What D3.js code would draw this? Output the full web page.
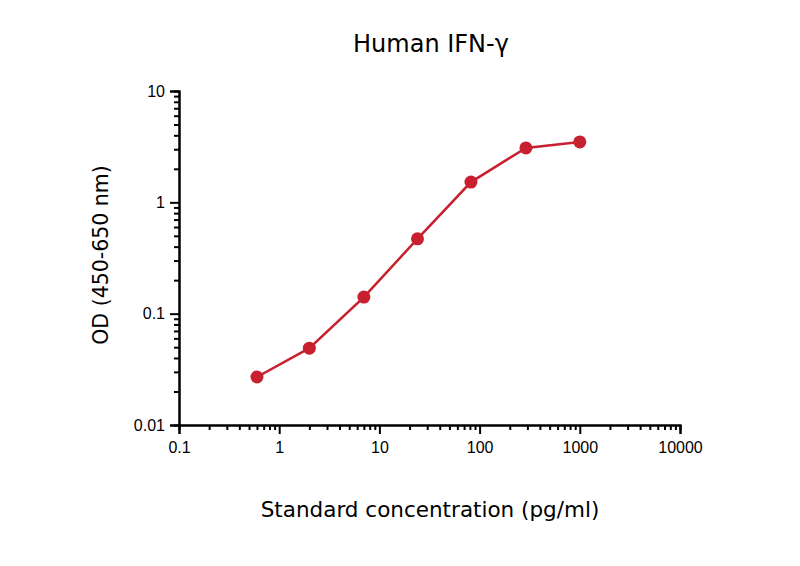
<!DOCTYPE html>
<html><head><meta charset="utf-8">
<script src="https://cdn.jsdelivr.net/npm/d3@7"></script>
<style>body{margin:0;background:#fff}text{font-family:"DejaVu Sans",Verdana,sans-serif}
.tick text{font-size:16px;font-family:"Liberation Sans",Arial,sans-serif;fill:#000}</style>
</head><body><svg id="c" width="800" height="566"></svg>
<script>
var conc = [0.6, 2, 7, 24, 82, 290, 1000]
var od = [0.027, 0.049, 0.141, 0.47, 1.52, 3.08, 3.49]
var xTicks = [0.1, 1, 10, 100, 1000, 10000]
var yTicks = [0.01, 0.1, 1, 10]

var svg = d3.select('#c')
var x = d3.scaleLog().domain([0.1, 10000]).range([179, 680])
var y = d3.scaleLog().domain([0.01, 10]).range([425, 91])

function minors(lo, hi) {
	var out = []
	for (var d = lo; d < hi; d *= 10)
		for (var k = 2; k <= 9; k++) out.push(d * k)
	return out
}

// minor ticks, then majors on top
var xa = svg.append('g').attr('transform', 'translate(0,425)')
xa.call(d3.axisBottom(x).tickValues(minors(0.1, 10000)).tickSize(5).tickFormat(''))
xa.append('g').call(d3.axisBottom(x).tickValues(xTicks).tickSize(9).tickPadding(8)
	.tickFormat(function(d) { return String(d) }))
var ya = svg.append('g').attr('transform', 'translate(179,0)')
ya.call(d3.axisLeft(y).tickValues(minors(0.01, 10)).tickSize(5).tickFormat(''))
ya.append('g').call(d3.axisLeft(y).tickValues(yTicks).tickSize(9).tickPadding(5)
	.tickFormat(function(d) { return String(d) }))

svg.selectAll('.domain').attr('stroke-width', 2)
svg.selectAll('.tick line').attr('stroke-width', 2)

var pts = conc.map(function(c, i) { return [c, od[i]] })
svg.append('path').datum(pts)
	.attr('fill', 'none').attr('stroke', '#c8202f').attr('stroke-width', 2.5)
	.attr('d', d3.line().x(function(d) { return x(d[0]) }).y(function(d) { return y(d[1]) }))
svg.selectAll('circle.pt').data(pts).enter().append('circle')
	.attr('cx', function(d) { return x(d[0]) }).attr('cy', function(d) { return y(d[1]) })
	.attr('r', 6.5).attr('fill', '#c8202f')

svg.append('text').attr('x', 431).attr('y', 52).attr('text-anchor', 'middle')
	.attr('font-size', 24).text('Human IFN-γ')
svg.append('text').attr('x', 430).attr('y', 517).attr('text-anchor', 'middle')
	.attr('font-size', 21.5).text('Standard concentration (pg/ml)')
svg.append('text').attr('transform', 'translate(108,255) rotate(-90)').attr('text-anchor', 'middle')
	.attr('font-size', 20.5).text('OD (450-650 nm)')
</script></body></html>
